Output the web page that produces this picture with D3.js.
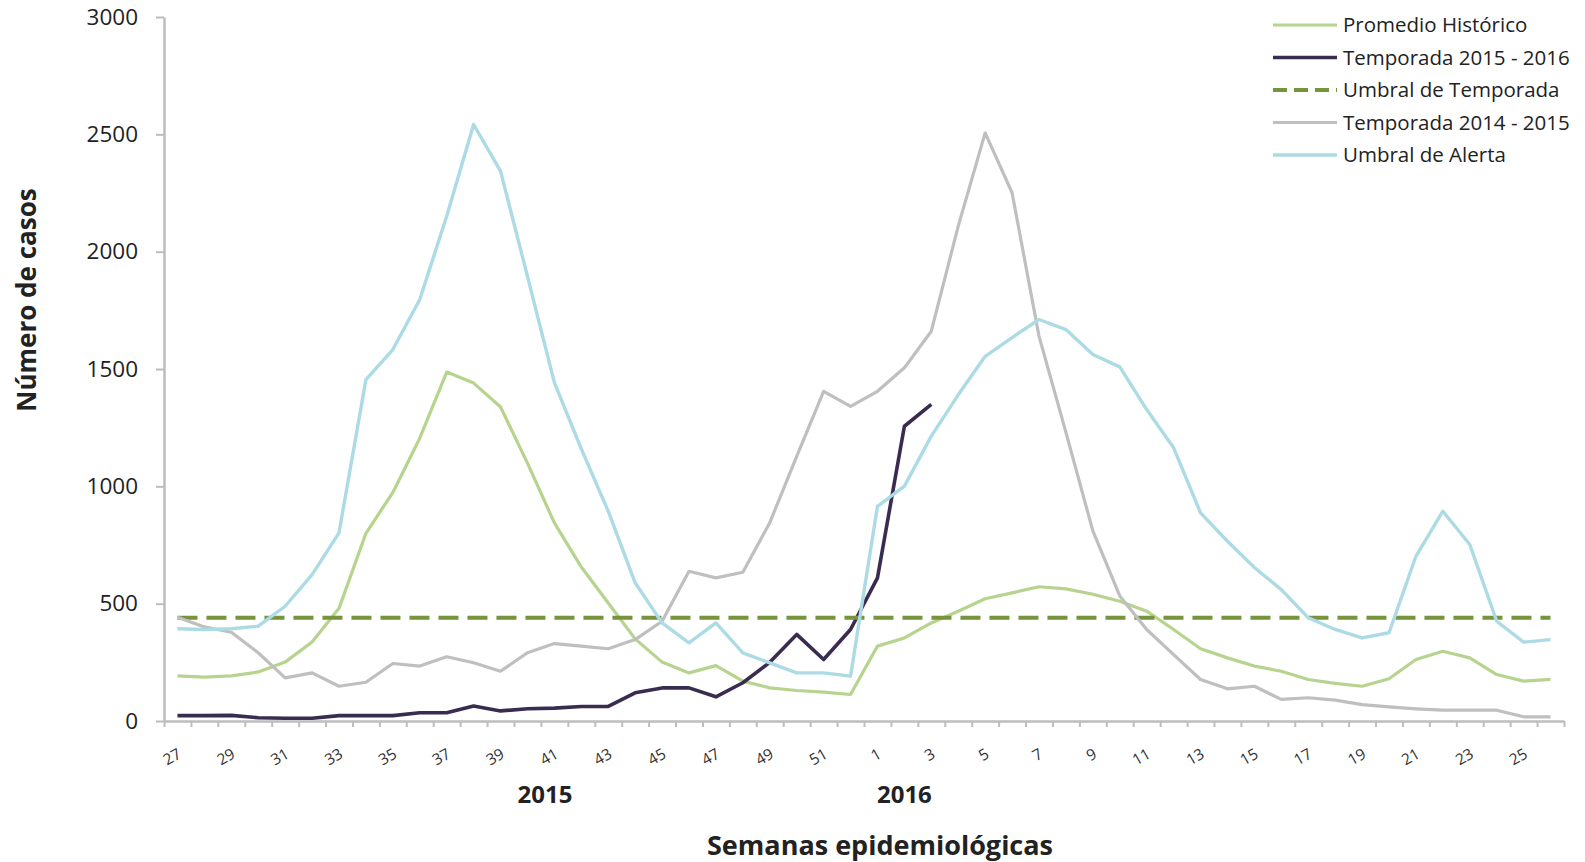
<!DOCTYPE html>
<html>
<head>
<meta charset="utf-8">
<script src="https://cdn.jsdelivr.net/npm/d3@7"></script>
<style>
  body { margin: 0; background: #fff; }
  text { font-family: "Open Sans", "DejaVu Sans", sans-serif; fill: #222; }
</style>
</head>
<body>
<div id="graph"></div>
<script>
// semanas epidemiologicas: 27..52 de 2015, 1..26 de 2016
const weeks = ["27","28","29","30","31","32","33","34","35","36","37","38","39","40","41","42","43","44","45","46","47","48","49","50","51","52",
  "1","2","3","4","5","6","7","8","9","10","11","12","13","14","15","16","17","18","19","20","21","22","23","24","25","26"];

const promedio = [192,187,192,209,251,337,480,800,974,1205,1487,1440,1338,1099,844,656,503,350,251,205,236,170,141,130,123,113,
  319,354,418,468,521,546,572,563,540,510,468,390,308,269,234,212,177,160,148,180,262,297,269,198,170,177];

const temporada1516 = [23,23,24,14,12,12,23,23,23,35,35,64,43,52,55,62,62,120,141,141,103,163,250,369,262,390,
  610,1256,1349,null,null,null,null,null,null,null,null,null,null,null,null,null,null,null,null,null,null,null,null,null,null,null];

const umbralTemporada = 440;

const temporada1415 = [442,401,378,291,184,205,148,165,245,234,274,248,212,291,330,319,308,347,425,638,610,634,845,1128,1405,1341,
  1405,1505,1661,2109,2506,2251,1640,1230,810,533,390,283,177,137,148,92,99,89,70,60,52,46,46,46,18,18];

const umbralAlerta = [393,390,393,404,489,624,802,1455,1583,1796,2151,2542,2343,1895,1442,1160,894,589,418,333,418,290,248,205,205,191,
  915,1001,1214,1390,1554,1634,1711,1668,1562,1509,1327,1164,887,766,654,560,440,390,354,376,702,894,752,425,336,347];

const yTicks = [0, 500, 1000, 1500, 2000, 2500, 3000];

const width = 1585, height = 862;
const svg = d3.select("#graph").append("svg")
  .attr("width", width)
  .attr("height", height);

const x = d3.scaleBand().domain(weeks).range([164, 1564]);
const y = d3.scaleLinear().domain([0, 3000]).range([721, 17]);
const cx = w => x(w) + x.bandwidth() / 2;

// y axis
const yAxis = svg.append("g")
  .attr("transform", "translate(164,0)")
  .call(d3.axisLeft(y).tickValues(yTicks).tickFormat(d3.format("d")).tickSize(8).tickSizeOuter(0).tickPadding(18));
yAxis.selectAll("text").style("font-size", "22.5px").style("fill", "#222");
yAxis.selectAll("line").attr("stroke", "#bdbdbd").attr("stroke-width", 2);
yAxis.select(".domain").attr("stroke", "#bdbdbd").attr("stroke-width", 2.5);

// x axis: ticks between categories
const xEdge = d3.scaleLinear().domain([0, weeks.length]).range(x.range());
const xAxis = svg.append("g")
  .attr("transform", "translate(0,721)")
  .call(d3.axisBottom(xEdge).tickValues(d3.range(weeks.length + 1)).tickFormat("").tickSize(6).tickSizeOuter(0));
xAxis.selectAll("line").attr("stroke", "#bdbdbd").attr("stroke-width", 2);
xAxis.select(".domain").attr("stroke", "#bdbdbd").attr("stroke-width", 2.5);

svg.append("g").selectAll("text")
  .data(weeks.filter((w, i) => i % 2 === 0))
  .join("text")
  .attr("transform", d => `translate(${cx(d) + 5},757) rotate(-30)`)
  .attr("text-anchor", "end")
  .style("font-size", "15.5px")
  .style("fill", "#333")
  .text(d => d);

// year labels
svg.append("text").attr("x", x("41") + 4).attr("y", 803).attr("text-anchor", "middle")
  .style("font-size", "24px").style("font-weight", "bold").text("2015");
svg.append("text").attr("x", cx("2")).attr("y", 803).attr("text-anchor", "middle")
  .style("font-size", "24px").style("font-weight", "bold").text("2016");

// axis titles
svg.append("text").attr("x", 880).attr("y", 855).attr("text-anchor", "middle")
  .style("font-size", "27px").style("font-weight", "bold").text("Semanas epidemiológicas");
svg.append("text").attr("transform", "translate(36,300) rotate(-90)").attr("text-anchor", "middle")
  .style("font-size", "26px").style("font-weight", "bold").text("Número de casos");

// series
const series = [
  {name: "Promedio Histórico", values: promedio, color: "#b7d48e", width: 3.2},
  {name: "Temporada 2015 - 2016", values: temporada1516, color: "#3a2c50", width: 3.6},
  {name: "Umbral de Temporada", values: weeks.map(() => umbralTemporada), color: "#77933c", width: 4, dash: "20,9"},
  {name: "Temporada 2014 - 2015", values: temporada1415, color: "#bfbfbf", width: 3.2},
  {name: "Umbral de Alerta", values: umbralAlerta, color: "#acdbe6", width: 3.4}
];

const line = d3.line()
  .defined(d => d.v !== null)
  .x(d => cx(d.w))
  .y(d => y(d.v));

svg.append("g").selectAll("path")
  .data(series)
  .join("path")
  .attr("d", s => line(weeks.map((w, i) => ({w: w, v: s.values[i]}))))
  .attr("fill", "none")
  .attr("stroke", s => s.color)
  .attr("stroke-width", s => s.width)
  .attr("stroke-dasharray", s => s.dash || null)
  .attr("stroke-linejoin", "round");

// legend
const legend = svg.append("g").selectAll("g")
  .data(series)
  .join("g")
  .attr("transform", (d, i) => `translate(1273,${25 + i * 32.5})`);
legend.append("line")
  .attr("x1", 0).attr("x2", 64)
  .attr("stroke", d => d.color)
  .attr("stroke-width", d => d.width)
  .attr("stroke-dasharray", d => d.dash ? "14,7" : null);
legend.append("text")
  .attr("x", 70).attr("dy", "0.35em")
  .style("font-size", "20.5px")
  .text(d => d.name);
</script>
</body>
</html>
